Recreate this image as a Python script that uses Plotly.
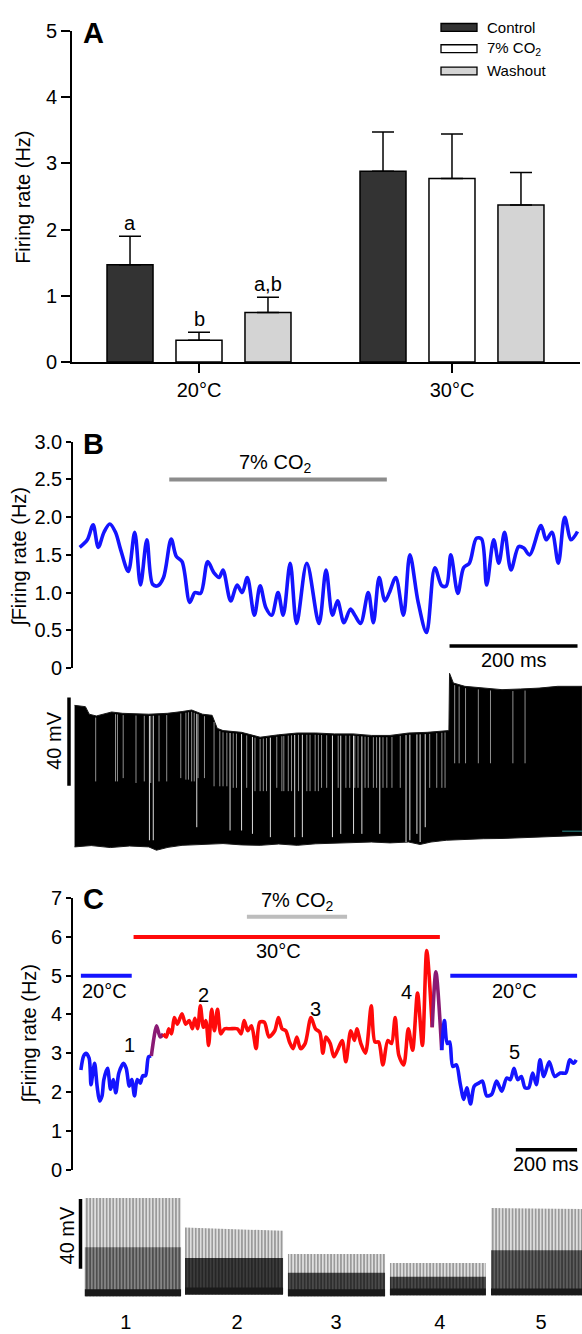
import numpy as np
import plotly.graph_objects as go

W, H = 582, 1334
def fx(px):
    return px / W
def fy(py):
    return 1 - py / H

FONT = "Liberation Sans, Arial, sans-serif"
FS = 20

# ---------------- Panel A data ----------------
groups = ["20°C", "30°C"]
conditions = ["Control", "7% CO<sub>2</sub>", "Washout"]
cond_colors = ["#333333", "#ffffff", "#d4d4d4"]
mean_control = [1.47, 2.88]
sem_control = [0.43, 0.59]
mean_co2 = [0.33, 2.77]
sem_co2 = [0.12, 0.67]
mean_wash = [0.75, 2.37]
sem_wash = [0.23, 0.49]
sig_labels_20 = ["a", "b", "a,b"]

# ---------------- Panel B data ----------------
b_t = [12, 24, 33, 41, 50, 59, 68, 76, 88, 98,
       107, 117, 126, 134, 143, 155, 163, 172, 184, 192,
       201, 212, 222, 230, 236, 248, 258, 266, 274, 285,
       294, 303, 312, 322, 330, 341, 351, 367, 386, 397,
       407, 415, 425, 435, 442, 451, 463, 471, 480, 489,
       496, 506, 518, 528, 541, 554, 567, 578, 585, 592,
       603, 612, 621, 632, 640, 648, 659, 667, 676, 686,
       698, 706, 715, 733, 741, 750, 760, 770, 780, 790]
b_rate = [1.60, 1.70, 1.90, 1.60, 1.80, 1.91, 1.80, 1.57, 1.28, 1.80,
          1.10, 1.70, 1.11, 1.09, 1.20, 1.71, 1.48, 1.41, 0.87, 1.00,
          0.99, 1.41, 1.26, 1.20, 1.30, 0.89, 1.10, 1.00, 1.20, 0.70,
          1.09, 0.80, 0.70, 1.00, 0.70, 1.39, 0.59, 1.39, 0.59, 1.30,
          0.70, 0.89, 0.60, 0.78, 0.70, 0.59, 1.00, 0.60, 1.20, 0.89,
          1.00, 1.20, 0.70, 1.50, 0.87, 0.47, 1.33, 1.09, 1.09, 1.50,
          0.99, 1.33, 1.39, 1.72, 1.71, 1.10, 1.70, 1.39, 1.80, 1.30,
          1.61, 1.59, 1.50, 1.89, 1.70, 1.80, 1.39, 2.00, 1.70, 1.81]
b_co2_period = [152, 492]       # ms
b_co2_level = 2.5
b_scale_ms = [590, 790]
b_scale_level = 0.29

# membrane potential envelope (mV)
bv_top_t = [4, 21, 27, 38, 62, 79, 120, 149, 172, 187, 204, 219, 227, 236, 265, 294, 323, 352,
            381, 410, 439, 468, 497, 526, 555, 585, 589, 590, 596, 614, 643, 672, 701, 730, 759, 788, 797]
bv_top = [-1.0, -1.6, -5.0, -5.8, -4.0, -4.6, -5.0, -4.6, -3.8, -3.1, -5.0, -5.5, -11.4, -12.4, -13.2,
          -15.4, -14.3, -13.5, -13.5, -13.9, -13.9, -14.6, -14.6, -13.5, -13.2, -12.4, -12.4, 13.5,
          9.1, 7.6, 6.8, 6.1, 6.4, 6.8, 7.6, 7.6, 7.6]
bv_bot_t = [4, 30, 60, 90, 120, 132, 150, 172, 200, 236, 265, 294, 323, 352, 381, 410, 439, 468,
            497, 526, 544, 561, 585, 614, 643, 672, 701, 730, 759, 797]
bv_bot = [-65.0, -64.4, -65.3, -64.6, -65.0, -66.5, -65.2, -64.3, -63.9, -63.5, -64.1, -64.3, -63.7,
          -64.3, -63.6, -63.5, -63.0, -62.8, -63.2, -62.8, -63.9, -62.8, -62.0, -61.8, -61.3, -61.2,
          -60.9, -60.6, -60.3, -59.8]
gap_short_t = [37, 68, 71, 80, 100, 113, 123, 136, 148, 170, 178, 182, 187, 191, 197, 207, 222, 231,
               236, 242, 252, 257, 273, 286, 294, 299, 304, 320, 328, 331, 338, 343, 354, 367, 372,
               380, 385, 390, 398, 416, 428, 434, 442, 447, 458, 463, 471, 476, 486, 492, 500, 513,
               559, 570, 578, 583, 598, 605, 615, 635, 654, 689, 708]
gap_short_bottom = [-35.4, -35.4, -35.4, -33.9, -36.1, -35.4, -36.1, -35.4, -35.4, -33.9, -34.6,
                    -34.6, -35.4, -35.4, -33.9, -33.9, -37.6, -37.6, -37.6, -37.6, -38.3, -38.3,
                    -38.3, -39.8, -39.8, -39.8, -39.8, -38.3, -39.8, -39.8, -39.8, -39.8, -39.8,
                    -39.8, -39.8, -39.8, -39.8, -38.3, -38.3, -38.3, -38.3, -38.3, -38.3, -38.3,
                    -38.3, -38.3, -38.3, -38.3, -38.3, -38.3, -38.3, -38.3, -38.3, -38.3, -38.3,
                    -38.3, -27.2, -27.2, -27.2, -27.2, -27.2, -27.2, -27.2]
gap_long_t = [121, 127, 195, 247, 265, 282, 310, 348, 360, 407, 420, 440, 453, 481, 522, 528, 539, 544, 552]
gap_long_bottom = [-62.0, -62.0, -56.1, -57.6, -57.6, -59.1, -60.6, -60.6, -60.6, -60.6, -59.1,
                   -59.1, -59.1, -59.1, -62.8, -62.0, -59.1, -62.8, -56.1]
b_mv_bar = [-37.4, 2.6]
b_artifact_t = [766, 797]
b_artifact_v = [-57.9, -57.9]

# ---------------- Panel C data ----------------
c_t = [29, 38, 46, 56, 62, 68, 74, 82, 90, 98,
       104, 116, 126, 135, 143, 153, 168, 177, 187, 195,
       204, 213, 223, 231, 240, 250, 259, 268, 276, 288,
       298, 308, 316, 325, 334, 344, 359, 371, 383, 393,
       401, 410, 419, 429, 437, 446, 456, 465, 475, 486,
       498, 516, 540, 552, 562, 574, 586, 601, 613, 628,
       643, 662, 674, 686, 698, 710, 722, 734, 746, 761,
       780, 795, 809, 819, 829, 843, 855, 867, 882, 894,
       910, 922, 930, 943, 958, 977, 989, 1001, 1015, 1031,
       1043, 1055, 1067, 1083, 1098, 1112, 1128, 1144, 1158, 1176,
       1188, 1207, 1216, 1225, 1233, 1243, 1255, 1267, 1279, 1289,
       1301, 1313, 1328, 1340, 1354, 1370, 1386, 1403, 1419, 1431,
       1443, 1455, 1467, 1479, 1491, 1504, 1516, 1528, 1540, 1558,
       1576, 1594, 1612, 1625, 1637, 1646]
c_rate = [2.57, 2.93, 3.00, 2.87, 2.19, 2.49, 2.74, 2.15, 1.77, 1.90,
          2.32, 2.61, 2.07, 2.32, 1.98, 2.49, 2.74, 2.61, 2.15, 2.32,
          1.90, 2.32, 2.23, 2.42, 2.42, 2.91, 2.93, 3.42, 3.71, 3.42,
          3.50, 3.42, 3.63, 3.50, 3.92, 3.75, 4.02, 3.75, 3.84, 3.63,
          3.90, 3.63, 4.22, 3.67, 3.84, 3.20, 4.13, 3.58, 4.13, 3.50,
          3.63, 3.63, 3.63, 3.50, 3.84, 3.58, 3.71, 3.12, 3.80, 3.80,
          3.42, 3.58, 3.92, 3.63, 3.58, 3.29, 3.12, 3.42, 3.12, 3.25,
          3.92, 3.63, 3.54, 3.00, 3.42, 3.25, 2.91, 3.08, 3.33, 2.78,
          3.58, 3.33, 3.63, 3.25, 3.00, 4.22, 3.29, 3.29, 2.70, 3.33,
          3.25, 3.92, 2.95, 2.70, 3.63, 3.08, 4.55, 3.20, 5.65, 3.67,
          5.10, 3.08, 3.84, 3.25, 3.29, 2.66, 2.70, 2.23, 1.81, 2.11,
          1.69, 2.15, 2.23, 2.28, 1.90, 1.94, 2.28, 2.02, 2.36, 2.32,
          2.61, 2.32, 2.40, 2.11, 2.11, 2.49, 2.19, 2.83, 2.40, 2.78,
          2.40, 2.49, 2.49, 2.83, 2.74, 2.83]
# colour segments (start, end, colour)
c_segments = [(0, 259, "#1414ff"), (259, 298, "#8a1a74"), (298, 1176, "#ff0a0a"),
              (1176, 1207, "#8a1a74"), (1207, 1700, "#1414ff")]
c_point_labels = ["1", "2", "3", "4", "5"]
c_point_t = [187, 429, 795, 1092, 1446]
c_point_v = [3.20, 4.51, 4.13, 4.58, 3.04]
c_warm_period = [201, 1201]
c_warm_level = 6.0
c_co2_period = [571, 898]
c_co2_level = 6.52
c_cool_periods = [[29, 195], [1235, 1649]]
c_cool_level = 5.0
c_cool_label_t = [107, 1446]
c_scale_ms = [1449, 1649]
c_scale_level = 0.51

snip_start = [42, 369, 705, 1038, 1368]
snip_end = [356, 689, 1022, 1351, 1665]
snip_top_left = [-9.2, -26.1, -41.3, -46.4, -14.9]
snip_top_right = [-9.2, -28.0, -41.3, -46.4, -15.5]
snip_band = [-37.4, -43.6, -52.0, -54.3, -39.1]
snip_base = [-65.5, -64.5, -65.5, -65.0, -65.0]
snip_band_color = ["#858585", "#3c3c3c", "#4a4a4a", "#4a4a4a", "#5e5e5e"]
snip_label_t = [176, 539, 862, 1201, 1531]
c_mv_bar = [-49.8, -9.8]

# ---------------- figure ----------------
fig = go.Figure()

# Panel A bars
means = [mean_control, mean_co2, mean_wash]
sems = [sem_control, sem_co2, sem_wash]
for name, col, m, s in zip(conditions, cond_colors, means, sems):
    fig.add_trace(go.Bar(
        x=groups, y=m, name=name, xaxis="x", yaxis="y",
        marker=dict(color=col, line=dict(color="black", width=1.5)),
        error_y=dict(type="data", symmetric=False, array=s, arrayminus=[0] * len(s),
                     color="black", thickness=1.5, width=11),
        showlegend=False))

BARGAP = 0.182
GROUPGAP = 0.333
slot = (1 - BARGAP) / len(conditions)

annotations = []
shapes = []
for k, lab in enumerate(sig_labels_20):
    annotations.append(dict(x=0 + (k - 1) * slot, y=means[k][0] + sems[k][0], xref="x", yref="y",
                            text=lab, showarrow=False, xanchor="center", yanchor="bottom",
                            font=dict(size=FS)))

# manual legend (wide boxes)
leg_rows = [16.7, 38.3, 61.0]
for name, col, ry in zip(conditions, cond_colors, leg_rows):
    shapes.append(dict(type="rect", xref="paper", yref="paper", x0=fx(441), x1=fx(477),
                       y0=fy(ry + 4), y1=fy(ry - 4), fillcolor=col,
                       line=dict(color="black", width=1.3)))
    annotations.append(dict(x=fx(485), y=fy(ry), xref="paper", yref="paper", text=name,
                            showarrow=False, xanchor="left", yanchor="middle", font=dict(size=15)))

# Panel B rate
fig.add_trace(go.Scatter(x=b_t, y=b_rate, mode="lines", xaxis="x2", yaxis="y2",
                         line=dict(color="#1414ff", width=3.6, shape="spline", smoothing=0.9),
                         showlegend=False))

# Panel B membrane potential
poly_x = bv_top_t + bv_bot_t[::-1]
poly_y = bv_top + bv_bot[::-1]
fig.add_trace(go.Scatter(x=poly_x, y=poly_y, mode="lines", fill="toself", fillcolor="black",
                         line=dict(color="#1a1a1a", width=1), xaxis="x3", yaxis="y3",
                         showlegend=False, hoverinfo="skip"))

def gap_lines(ts, bottoms):
    xs, ys = [], []
    tops = np.interp(ts, bv_top_t, bv_top)
    for t, b, tp in zip(ts, bottoms, tops):
        xs += [t, t, None]
        ys += [tp - 0.8, b, None]
    return xs, ys

gx, gy = gap_lines(gap_short_t, gap_short_bottom)
fig.add_trace(go.Scatter(x=gx, y=gy, mode="lines", line=dict(color="#8f8f8f", width=1),
                         xaxis="x3", yaxis="y3", showlegend=False, hoverinfo="skip"))
gx, gy = gap_lines(gap_long_t, gap_long_bottom)
fig.add_trace(go.Scatter(x=gx, y=gy, mode="lines", line=dict(color="#dcdcdc", width=1),
                         xaxis="x3", yaxis="y3", showlegend=False, hoverinfo="skip"))
fig.add_trace(go.Scatter(x=b_artifact_t, y=b_artifact_v, mode="lines",
                         line=dict(color="#1e5f5f", width=1.5),
                         xaxis="x3", yaxis="y3", showlegend=False, hoverinfo="skip"))

# Panel C rate (colour segments)
ct = np.array(c_t)
cr = np.array(c_rate)
for s0, s1, col in c_segments:
    m = (ct >= s0) & (ct <= s1)
    fig.add_trace(go.Scatter(x=ct[m], y=cr[m], mode="lines", xaxis="x4", yaxis="y4",
                             line=dict(color=col, width=3.6, shape="spline", smoothing=0.8),
                             showlegend=False))

# Panel C membrane potential snippets
for s0, s1, tl, tr, bd, bs, bc in zip(snip_start, snip_end, snip_top_left, snip_top_right,
                                       snip_band, snip_base, snip_band_color):
    fig.add_trace(go.Scatter(x=[s0, s1, s1, s0, s0], y=[bs, bs, tr, tl, bs], mode="lines",
                             fill="toself", line=dict(width=0),
                             fillpattern=dict(shape="|", fgcolor="#333333", bgcolor="#dedede",
                                              size=3.3, solidity=0.4),
                             xaxis="x5", yaxis="y5", showlegend=False, hoverinfo="skip"))
    fig.add_trace(go.Scatter(x=[s0, s1, s1, s0, s0], y=[bs, bs, bd, bd, bs], mode="lines",
                             fill="toself", line=dict(width=0),
                             fillpattern=dict(shape="|", fgcolor="#0a0a0a", bgcolor=bc,
                                              size=3.3, solidity=0.45),
                             xaxis="x5", yaxis="y5", showlegend=False, hoverinfo="skip"))
    fig.add_trace(go.Scatter(x=[s0, s1, s1, s0, s0], y=[bs, bs, bs + 4, bs + 4, bs], mode="lines",
                             fill="toself", fillcolor="#1a1a1a", line=dict(width=0),
                             xaxis="x5", yaxis="y5", showlegend=False, hoverinfo="skip"))

# ---- Panel B decorations
shapes.append(dict(type="line", xref="x2", yref="y2", x0=b_co2_period[0], x1=b_co2_period[1],
                   y0=b_co2_level, y1=b_co2_level, line=dict(color="#8c8c8c", width=4)))
annotations.append(dict(x=sum(b_co2_period) / 2 - 5, y=b_co2_level, xref="x2", yref="y2",
                        text="7% CO<sub>2</sub>", showarrow=False, xanchor="center",
                        yanchor="bottom", yshift=1, font=dict(size=FS)))
shapes.append(dict(type="line", xref="x2", yref="y2", x0=b_scale_ms[0], x1=b_scale_ms[1],
                   y0=b_scale_level, y1=b_scale_level, line=dict(color="black", width=3.5)))
annotations.append(dict(x=sum(b_scale_ms) / 2, y=b_scale_level, xref="x2", yref="y2",
                        text="200 ms", showarrow=False, xanchor="center", yanchor="top", yshift=-1,
                        font=dict(size=FS)))
shapes.append(dict(type="line", xref="paper", yref="y3", x0=fx(69), x1=fx(69),
                   y0=b_mv_bar[0], y1=b_mv_bar[1], line=dict(color="black", width=3.5)))
annotations.append(dict(x=fx(54), y=fy(742), xref="paper", yref="paper", text="40 mV",
                        textangle=-90, showarrow=False, xanchor="center", yanchor="middle",
                        font=dict(size=FS)))

# ---- Panel C decorations
shapes.append(dict(type="line", xref="x4", yref="y4", x0=c_co2_period[0], x1=c_co2_period[1],
                   y0=c_co2_level, y1=c_co2_level, line=dict(color="#bdbdbd", width=4)))
annotations.append(dict(x=sum(c_co2_period) / 2, y=c_co2_level, xref="x4", yref="y4",
                        text="7% CO<sub>2</sub>", showarrow=False, xanchor="center",
                        yanchor="bottom", yshift=1, font=dict(size=FS)))
shapes.append(dict(type="line", xref="x4", yref="y4", x0=c_warm_period[0], x1=c_warm_period[1],
                   y0=c_warm_level, y1=c_warm_level, line=dict(color="#ff0a0a", width=4)))
annotations.append(dict(x=674, y=c_warm_level, xref="x4", yref="y4", text="30°C",
                        showarrow=False, xanchor="center", yanchor="top", yshift=-1,
                        font=dict(size=FS)))
for (p0, p1), lt in zip(c_cool_periods, c_cool_label_t):
    shapes.append(dict(type="line", xref="x4", yref="y4", x0=p0, x1=p1,
                       y0=c_cool_level, y1=c_cool_level, line=dict(color="#1414ff", width=4)))
    annotations.append(dict(x=lt, y=c_cool_level, xref="x4", yref="y4", text="20°C",
                            showarrow=False, xanchor="center", yanchor="top", yshift=-2,
                            font=dict(size=FS)))
for lab, t, v in zip(c_point_labels, c_point_t, c_point_v):
    annotations.append(dict(x=t, y=v, xref="x4", yref="y4", text=lab, showarrow=False,
                            xanchor="center", yanchor="middle", font=dict(size=FS)))
shapes.append(dict(type="line", xref="x4", yref="y4", x0=c_scale_ms[0], x1=c_scale_ms[1],
                   y0=c_scale_level, y1=c_scale_level, line=dict(color="black", width=3.5)))
annotations.append(dict(x=sum(c_scale_ms) / 2, y=c_scale_level, xref="x4", yref="y4",
                        text="200 ms", showarrow=False, xanchor="center", yanchor="top", yshift=-1,
                        font=dict(size=FS)))
shapes.append(dict(type="line", xref="paper", yref="y5", x0=fx(80.5), x1=fx(80.5),
                   y0=c_mv_bar[0], y1=c_mv_bar[1], line=dict(color="black", width=3.5)))
annotations.append(dict(x=fx(67), y=fy(1245), xref="paper", yref="paper", text="40 mV",
                        textangle=-90, showarrow=False, xanchor="center", yanchor="middle",
                        font=dict(size=FS)))

# panel letters and axis titles
for letter, py in [("A", 22.5), ("B", 440), ("C", 903)]:
    annotations.append(dict(x=fx(81), y=fy(py), xref="paper", yref="paper", text=f"<b>{letter}</b>",
                            showarrow=False, xanchor="left", yanchor="middle", font=dict(size=29)))
for txt, px, py in [("Firing rate (Hz)", 23, 190), ("∫Firing rate (Hz)", 20, 555),
                    ("∫Firing rate (Hz)", 30, 1040)]:
    annotations.append(dict(x=fx(px), y=fy(py), xref="paper", yref="paper", text=txt,
                            textangle=-90, showarrow=False, xanchor="center", yanchor="middle",
                            font=dict(size=FS)))

ax_common = dict(showgrid=False, zeroline=False, showline=True, linecolor="black", linewidth=1.6,
                 ticks="outside", ticklen=5, tickwidth=1.5, tickcolor="black",
                 tickfont=dict(size=FS, color="black"))
hidden = dict(visible=False, showgrid=False, zeroline=False)

fig.update_layout(
    width=W, height=H, margin=dict(l=0, r=0, t=0, b=0),
    paper_bgcolor="white", plot_bgcolor="white",
    font=dict(family=FONT, size=FS, color="black"),
    showlegend=False, barmode="group", bargap=BARGAP, bargroupgap=GROUPGAP,
    xaxis=dict(ax_common, type="category", domain=[fx(72), fx(580)], range=[-0.502, 1.506],
               anchor="y", ticklen=9),
    yaxis=dict(ax_common, domain=[fy(357), fy(20)], range=[0, 5], tickvals=[0, 1, 2, 3, 4, 5],
               anchor="x", ticklen=9),
    xaxis2=dict(hidden, domain=[fx(72), 1], range=[0, 797], anchor="y2"),
    yaxis2=dict(ax_common, domain=[fy(668), fy(438)], range=[0, 3],
                tickvals=[0, 0.5, 1, 1.5, 2, 2.5, 3],
                ticktext=["0", "0.5", "1.0", "1.5", "2.0", "2.5", "3.0"],
                anchor="free", position=fx(72)),
    xaxis3=dict(hidden, domain=[fx(72), 1], range=[0, 797], anchor="y3"),
    yaxis3=dict(hidden, domain=[fy(858), fy(668)], range=[-68.6, 15.9], anchor="x3"),
    xaxis4=dict(hidden, domain=[fx(72), 1], range=[0, 1665], anchor="y4"),
    yaxis4=dict(ax_common, domain=[fy(1178), fy(902)], range=[0, 7], tickvals=list(range(8)),
                anchor="free", position=fx(72)),
    xaxis5=dict(domain=[fx(72), 1], range=[0, 1665], anchor="y5", showgrid=False, zeroline=False,
                showline=False, ticks="", tickvals=snip_label_t, ticktext=["1", "2", "3", "4", "5"],
                tickfont=dict(size=FS), ticklabelstandoff=6),
    yaxis5=dict(hidden, domain=[fy(1313), fy(1195)], range=[-69.0, -2.5], anchor="x5"),
    shapes=shapes, annotations=annotations,
)

fig.write_html("out.html", config={"displayModeBar": False},
               post_script="document.body.style.margin='0';")
